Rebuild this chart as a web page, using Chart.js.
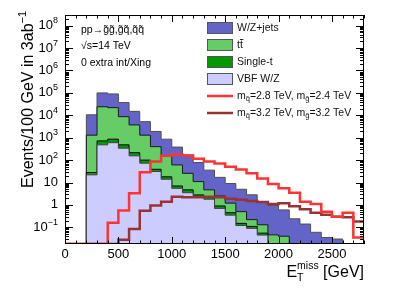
<!DOCTYPE html>
<html>
<head>
<meta charset="utf-8">
<script src="https://cdn.jsdelivr.net/npm/chart.js@4.4.0/dist/chart.umd.min.js"></script>
<style>
  html, body { margin: 0; padding: 0; background: #fff; }
</style>
</head>
<body>
<canvas id="metChart" width="405" height="291"></canvas>
<script>
// bins: lower edge of each 100 GeV bin
const binLow = [0, 100, 200, 300, 400, 500, 600, 700, 800, 900, 1000, 1100, 1200, 1300,
                1400, 1500, 1600, 1700, 1800, 1900, 2000, 2100, 2200, 2300, 2400, 2500, 2600, 2700];
const binWidth = 100;

// backgrounds, events per bin (not stacked)
const vbfWZ     = [0, 0, 22, 480, 600, 340, 155, 73, 31, 14, 5.5, 3.5, 2.3, 1.8,
                   0.7, 0.35, 0.12, 0.09, 0.045, 0, 0, 0, 0, 0, 0, 0, 0, 0];
const singleTop = [0, 0, 6, 240, 260, 140, 60, 27, 8, 4, 1.5, 1.2, 0.5, 0.4,
                   0.2, 0.1, 0.03, 0.02, 0.01, 0, 0, 0, 0, 0, 0, 0, 0, 0];
const ttbar     = [0, 0, 1270, 23300, 21100, 8200, 3500, 1200, 360, 130, 54, 21, 8.2, 2.5,
                   1.6, 0.75, 0.35, 0.11, 0.075, 0.046, 0.04, 0, 0, 0, 0, 0, 0, 0];
const wzJets    = [0, 0, 9200, 76000, 68000, 28300, 11300, 3900, 1500, 710, 320, 144, 67, 31,
                   14.5, 7.8, 4.5, 2.6, 1.27, 0.9, 0.56, 0.24, 0.14, 0.06, 0.035, 0.03, 0, 0];

// signals
const sigA = [0, 0, 0, 0, 0.16, 0.56, 3.3, 29, 86, 155, 180, 160, 115, 86,
              70, 50, 38, 26, 15, 8.5, 5.5, 3.5, 1.4, 1.1, 0.5, 0.3, 0.45, 0.035];
const sigB = [0, 0, 0, 0, 0, 0.028, 0.085, 0.55, 0.95, 1.4, 2.3, 2.2, 2.2, 2.3,
              2.2, 1.9, 1.7, 1.5, 1.36, 1.1, 1.2, 0.88, 0.64, 0.45, 0.36, 0.3, 0.28, 0.18];

const xTickLabels = [0, 500, 1000, 1500, 2000, 2500];
const yDecades = [-1, 0, 1, 2, 3, 4, 5, 6, 7, 8];

const xMin = 0, xMax = 2800;
const yMin = 0.018, yMax = 3e8;

const FONT = "'Liberation Sans', Arial, Helvetica, sans-serif";

// histogram as stepped points; empty bins go to "floor"
function stepPoints(values, floor) {
    const pts = binLow.map((x, i) => ({ x: x, y: values[i] > 0 ? values[i] : floor }));
    pts.push({ x: binLow[binLow.length - 1] + binWidth, y: pts[pts.length - 1].y });
    return pts;
}
function addUp(a, b) {
    return a.map((v, i) => v + b[i]);
}

const stackVbf = vbfWZ;
const stackSingleT = addUp(stackVbf, singleTop);
const stackTtbar = addUp(stackSingleT, ttbar);
const stackWZ = addUp(stackTtbar, wzJets);

const bgFloor = yMin / 10;

// text with sub/superscript pieces: [text, size, dy]
function drawPieces(ctx, pieces, x, y) {
    let cx = x;
    pieces.forEach(p => {
        ctx.font = p[1] + 'px ' + FONT;
        ctx.fillText(p[0], cx, y + (p[2] || 0));
        cx += ctx.measureText(p[0]).width;
    });
    return cx;
}
function piecesWidth(ctx, pieces) {
    let w = 0;
    pieces.forEach(p => {
        ctx.font = p[1] + 'px ' + FONT;
        w += ctx.measureText(p[0]).width;
    });
    return w;
}

const rootFrame = {
    id: 'rootFrame',
    afterDraw(chart) {
        const { ctx, chartArea: a, scales } = chart;
        const xs = scales.x, ys = scales.y;
        ctx.save();
        ctx.strokeStyle = '#000';
        ctx.fillStyle = '#000';
        ctx.lineWidth = 1;

        // frame
        ctx.strokeRect(a.left + 0.5, a.top + 0.5, a.right - a.left - 1, a.bottom - a.top - 1);

        // x ticks, bottom and top
        ctx.beginPath();
        for (let v = xMin; v <= xMax; v += 100) {
            const px = Math.round(xs.getPixelForValue(v)) + 0.5;
            const len = v % 500 === 0 ? 7 : 3.5;
            ctx.moveTo(px, a.bottom);
            ctx.lineTo(px, a.bottom - len);
            ctx.moveTo(px, a.top);
            ctx.lineTo(px, a.top + len);
        }
        // y ticks, left and right
        for (let k = -2; k <= 8; k++) {
            for (let m = 1; m <= 9; m++) {
                const v = m * Math.pow(10, k);
                if (v < yMin || v > yMax) continue;
                const py = Math.round(ys.getPixelForValue(v)) + 0.5;
                const len = m === 1 ? 8 : 4;
                ctx.moveTo(a.left, py);
                ctx.lineTo(a.left + len, py);
                ctx.moveTo(a.right, py);
                ctx.lineTo(a.right - len, py);
            }
        }
        ctx.stroke();

        // x tick labels
        ctx.font = '13px ' + FONT;
        ctx.textAlign = 'center';
        ctx.textBaseline = 'middle';
        xTickLabels.forEach(v => {
            ctx.fillText(String(v), xs.getPixelForValue(v), a.bottom + 10);
        });

        // y tick labels
        ctx.textAlign = 'left';
        ctx.textBaseline = 'middle';
        yDecades.forEach(k => {
            const py = ys.getPixelForValue(Math.pow(10, k));
            let pieces;
            if (k === 0) pieces = [['1', 13, 0]];
            else if (k === 1) pieces = [['10', 13, 0]];
            else pieces = [['10', 13, 0], [String(k).replace('-', '\u2212'), 9, -5]];
            const w = piecesWidth(ctx, pieces);
            drawPieces(ctx, pieces, a.left - 7 - w, py);
        });

        // y title
        ctx.save();
        ctx.translate(33, 188);
        ctx.rotate(-Math.PI / 2);
        ctx.textBaseline = 'alphabetic';
        drawPieces(ctx, [['Events/100 GeV in 3ab', 16, 0], ['\u22121', 11, -7]], 0, 0);
        ctx.restore();

        // x title
        ctx.textBaseline = 'alphabetic';
        const xTitle = [['E', 16, 0]];
        const restTitle = [[' [GeV]', 16, 0]];
        ctx.font = '10.5px ' + FONT;
        const missW = ctx.measureText('miss').width;
        const totalW = piecesWidth(ctx, xTitle) + missW + piecesWidth(ctx, restTitle);
        let tx = a.right - totalW;
        let ex = drawPieces(ctx, xTitle, tx, 277);
        drawPieces(ctx, [['miss', 10.5, -8]], ex, 277);
        drawPieces(ctx, [['T', 10.5, 4]], ex, 277);
        drawPieces(ctx, restTitle, ex + missW, 277);

        // top-left text
        ctx.textBaseline = 'middle';
        drawPieces(ctx, [['pp\u2192g\u0303g\u0303,g\u0303q\u0303,q\u0303q\u0303', 10.5, 0]], 81, 30);
        drawPieces(ctx, [['\u221As=14 TeV', 10.5, 0]], 81, 46);
        drawPieces(ctx, [['0 extra int/Xing', 10.5, 0]], 81, 63);

        // legend
        const lx = 207, lw = 26, tx0 = 237;
        const rows = [28, 45, 62, 79, 96, 113];
        chart.data.datasets.forEach((ds, i) => {
            const cy = rows[i];
            if (ds.fill) {
                ctx.fillStyle = ds.backgroundColor;
                ctx.fillRect(lx, cy - 6, lw, 12);
                ctx.strokeStyle = '#555';
                ctx.lineWidth = 1;
                ctx.strokeRect(lx + 0.5, cy - 5.5, lw - 1, 11);
            } else {
                ctx.strokeStyle = ds.borderColor;
                ctx.lineWidth = 2.5;
                ctx.beginPath();
                ctx.moveTo(lx, cy);
                ctx.lineTo(lx + lw, cy);
                ctx.stroke();
            }
            ctx.fillStyle = '#111';
            drawPieces(ctx, ds.legendText, tx0, cy);
            if (ds.label === 'ttbar') {
                ctx.font = '10.5px ' + FONT;
                const tw = ctx.measureText('t').width;
                ctx.strokeStyle = '#111';
                ctx.lineWidth = 0.9;
                ctx.beginPath();
                ctx.moveTo(tx0 + tw, cy - 5.5);
                ctx.lineTo(tx0 + 2 * tw + 0.5, cy - 5.5);
                ctx.stroke();
            }
        });

        ctx.restore();
    }
};

const config = {
    type: 'line',
    data: {
        datasets: [
            {
                label: 'W/Z+jets', legendText: [['W/Z+jets', 10.5, 0]],
                data: stepPoints(stackWZ, bgFloor), stepped: true, fill: 'start',
                backgroundColor: '#6464c8', borderColor: '#505050', borderWidth: 1, order: 4
            },
            {
                label: 'ttbar', legendText: [['tt', 10.5, 0]],
                data: stepPoints(stackTtbar, bgFloor), stepped: true, fill: 'start',
                backgroundColor: '#66cc66', borderColor: '#1a1a1a', borderWidth: 1, order: 3
            },
            {
                label: 'Single-t', legendText: [['Single-t', 10.5, 0]],
                data: stepPoints(stackSingleT, bgFloor), stepped: true, fill: 'start',
                backgroundColor: '#009900', borderColor: '#0a0a0a', borderWidth: 1, order: 2
            },
            {
                label: 'VBF W/Z', legendText: [['VBF W/Z', 10.5, 0]],
                data: stepPoints(stackVbf, bgFloor), stepped: true, fill: 'start',
                backgroundColor: '#ccccff', borderColor: '#404040', borderWidth: 1, order: 1
            },
            {
                label: 'sigA',
                legendText: [['m', 10.5, 0], ['q\u0303', 7.5, 3], ['=2.8 TeV, m', 10.5, 0], ['g\u0303', 7.5, 3], ['=2.4 TeV', 10.5, 0]],
                data: stepPoints(sigA, yMin), stepped: true, fill: false,
                borderColor: '#ff3333', borderWidth: 2.5, order: 0
            },
            {
                label: 'sigB',
                legendText: [['m', 10.5, 0], ['q\u0303', 7.5, 3], ['=3.2 TeV, m', 10.5, 0], ['g\u0303', 7.5, 3], ['=3.2 TeV', 10.5, 0]],
                data: stepPoints(sigB, yMin), stepped: true, fill: false,
                borderColor: '#993333', borderWidth: 2.5, order: 0
            }
        ]
    },
    options: {
        responsive: false,
        animation: false,
        devicePixelRatio: 1,
        layout: { padding: { left: 65, right: 41, top: 15, bottom: 47 } },
        elements: { point: { radius: 0 }, line: { tension: 0 } },
        plugins: {
            legend: { display: false },
            tooltip: { enabled: false }
        },
        scales: {
            x: { type: 'linear', min: xMin, max: xMax, display: false },
            y: { type: 'logarithmic', min: yMin, max: yMax, display: false }
        }
    },
    plugins: [rootFrame]
};

const metChart = new Chart(document.getElementById('metChart'), config);
</script>
</body>
</html>
